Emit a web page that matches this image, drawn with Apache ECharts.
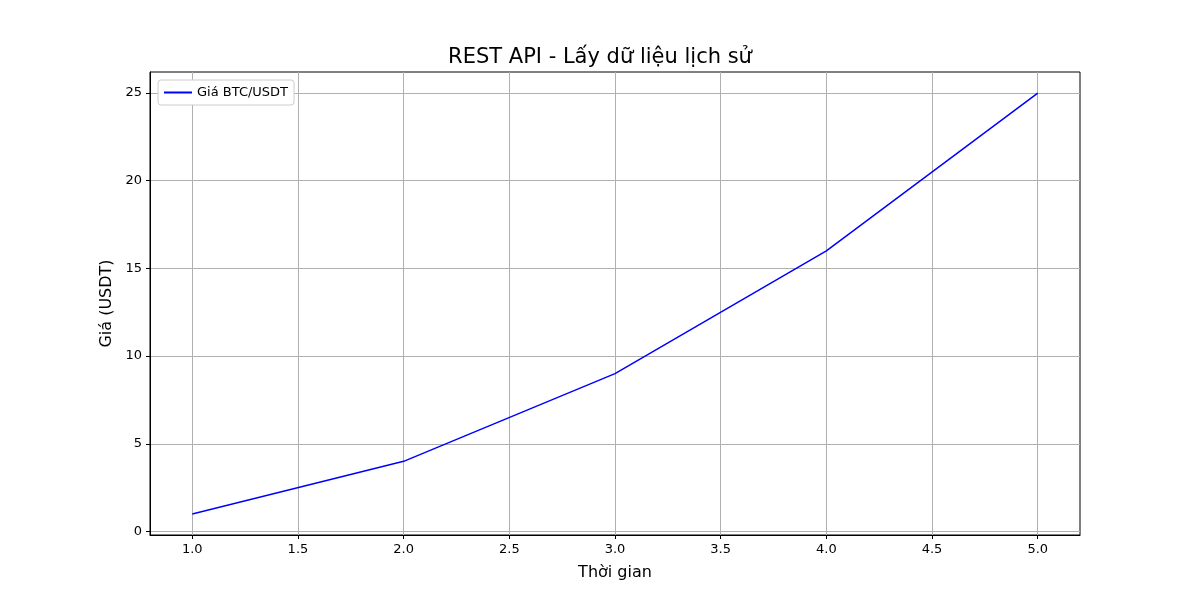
<!DOCTYPE html>
<html><head><meta charset="utf-8">
<script src="https://cdn.jsdelivr.net/npm/echarts@6/dist/echarts.min.js"></script>
<style>body{margin:0}#c{width:1200px;height:600px}</style></head>
<body><div id="c"></div>
<script>
var xs = [1, 2, 3, 4, 5];
var prices = [1, 4, 9, 16, 25];
var xTicks = [1, 1.5, 2, 2.5, 3, 3.5, 4, 4.5, 5];
var yTicks = [0, 5, 10, 15, 20, 25];

var chart = echarts.init(document.getElementById('c'));
var font = 'DejaVu Sans';
chart.setOption({
    textStyle: {fontFamily: font},
    title: {text: 'REST API - Lấy dữ liệu lịch sử', left: 'center', top: 42,
        textStyle: {fontFamily: font, fontSize: 21, fontWeight: 'normal', color: '#000'}},
    legend: {left: 158, top: 80, orient: 'vertical', data: ['Giá BTC/USDT'],
        itemWidth: 28, itemHeight: 2, padding: [6, 6, 6, 6],
        borderColor: '#ccc', borderWidth: 1, borderRadius: 3, backgroundColor: '#fff',
        textStyle: {fontFamily: font, fontSize: 13, color: '#000'}, icon: 'rect'},
    grid: {left: 150, right: 120, top: 72, bottom: 65, show: true,
        borderColor: '#000', borderWidth: 1, backgroundColor: 'transparent'},
    xAxis: {
        type: 'value', min: 0.8, max: 5.2,
        name: 'Thời gian', nameLocation: 'middle', nameGap: 30,
        nameTextStyle: {fontSize: 16, color: '#000', fontFamily: font},
        axisLine: {onZero: false, lineStyle: {color: '#000'}},
        axisTick: {customValues: xTicks, length: 4, lineStyle: {color: '#000'}},
        axisLabel: {customValues: xTicks, color: '#000', fontSize: 13, formatter: function(v){return v.toFixed(1);}},
        splitLine: {show: true, lineStyle: {color: '#b0b0b0'}}
    },
    yAxis: {
        type: 'value', min: -0.2, max: 26.2,
        name: 'Giá (USDT)', nameLocation: 'middle', nameGap: 35,
        nameTextStyle: {fontSize: 16, color: '#000', fontFamily: font},
        axisLine: {show: true, lineStyle: {color: '#000'}},
        axisTick: {show: true, customValues: yTicks, length: 4, lineStyle: {color: '#000'}},
        axisLabel: {customValues: yTicks, color: '#000', fontSize: 13},
        splitLine: {show: true, lineStyle: {color: '#b0b0b0'}}
    },
    series: [{
        name: 'Giá BTC/USDT', type: 'line', showSymbol: false,
        data: xs.map(function(x, i){return [x, prices[i]];}),
        lineStyle: {color: '#0000ff', width: 1.5}, itemStyle: {color: '#0000ff'}
    }]
});
</script></body></html>
